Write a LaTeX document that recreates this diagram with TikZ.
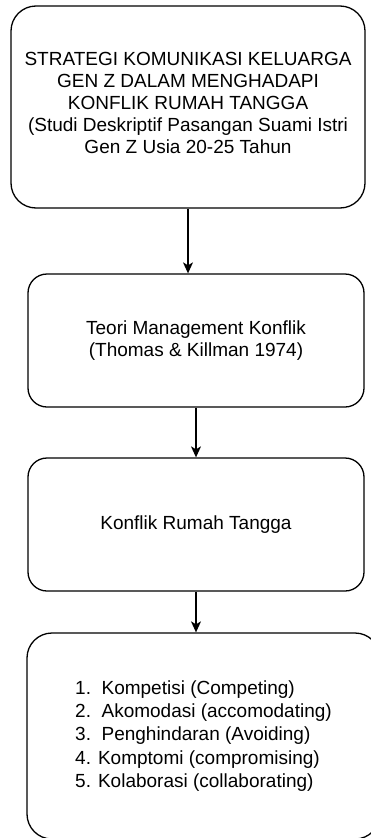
\documentclass[tikz,border=0pt]{standalone}
\usepackage{fontspec}
\setmainfont{Liberation Sans}
\usetikzlibrary{arrows.meta,positioning}

\begin{document}
\begin{tikzpicture}[x=1pt,y=-1pt,
  kotak/.style={draw,line width=1.3pt,rounded corners=#1,inner sep=0pt,
    align=center,font=\fontsize{19}{22}\selectfont},
  kotak/.default=19pt,
  panah/.style={line width=1.3pt,-{Stealth[length=11pt,width=10pt,inset=3pt]}}]
\useasboundingbox (0,0) rectangle (371,838);

% Judul penelitian
\node[kotak=25pt,minimum width=354pt,minimum height=202pt] (judul) at (188,107)
  {STRATEGI KOMUNIKASI KELUARGA\\GEN Z DALAM MENGHADAPI\\KONFLIK RUMAH TANGGA\\
   (Studi Deskriptif Pasangan Suami Istri\\Gen Z Usia 20-25 Tahun\rule[-8pt]{0pt}{8pt}};

% Teori
\node[kotak,minimum width=336pt,minimum height=133pt] (teori) at (196,340.5)
  {Teori Management Konflik\\(Thomas \& Killman 1974)};

% Konflik
\node[kotak,minimum width=336pt,minimum height=133pt] (konflik) at (196,524.5)
  {Konflik Rumah Tangga};

% Gaya manajemen konflik
\node[kotak=25pt,minimum width=353pt,minimum height=206pt,align=left,
  font=\fontsize{19}{23.4}\selectfont] (gaya) at (203.5,736)
  {1.\ \ Kompetisi (Competing)\\2.\ \ Akomodasi (accomodating)\\
   3.\ \ Penghindaran (Avoiding)\\4. Komptomi (compromising)\\
   5. Kolaborasi (collaborating)};

\draw[panah] (judul.south) -- (judul.south |- teori.north);
\draw[panah] (teori.south) -- (konflik.north);
\draw[panah] (konflik.south) -- (konflik.south |- gaya.north);
\end{tikzpicture}
\end{document}
